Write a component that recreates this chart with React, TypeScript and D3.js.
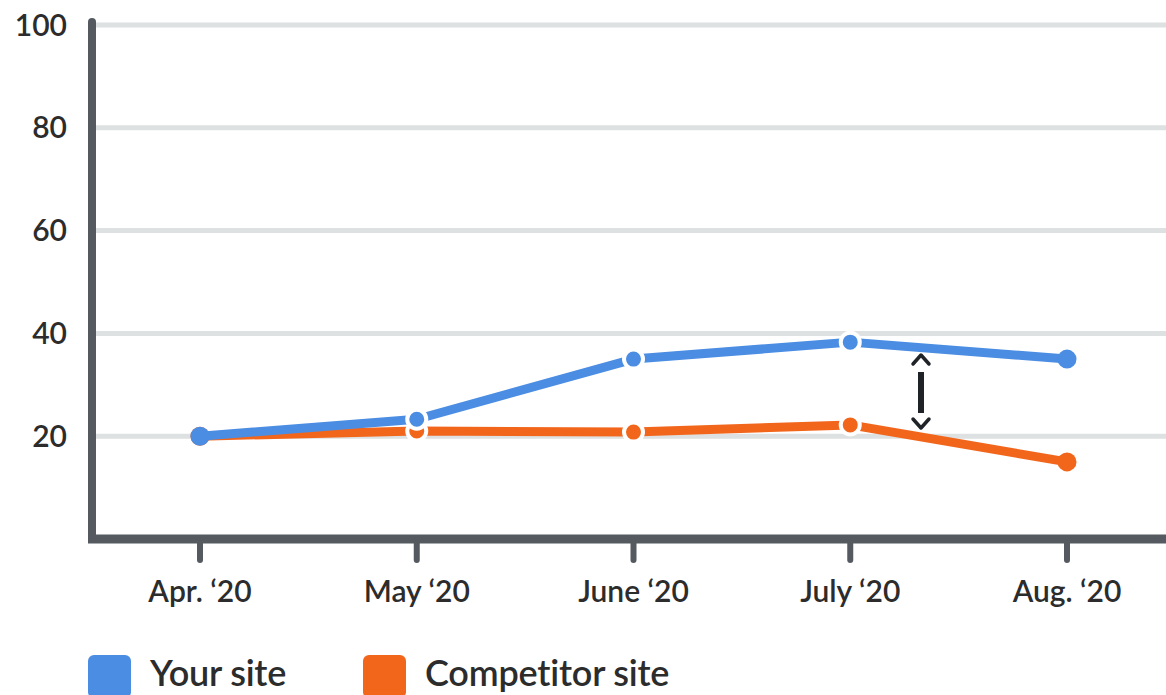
import React from "react";
import * as d3 from "d3";

const months = ["Apr. \u201820", "May \u201820", "June \u201820", "July \u201820", "Aug. \u201820"];
const yourSite = [20, 23.3, 35, 38.3, 35];
const competitorSite = [20, 21, 20.8, 22.2, 15];
const yTicks = [20, 40, 60, 80, 100];
const seriesNames = ["Your site", "Competitor site"];
const seriesColors = ["#4a8de3", "#f2661c"];

const W = 1166;
const H = 695;

export default function App() {
  const x = d3.scalePoint<string>().domain(months).range([200, 1067]);
  const y = d3.scaleLinear().domain([0, 100]).range([539, 25]);
  const line = d3
    .line<number>()
    .x((_, i) => x(months[i]) as number)
    .y((d) => y(d));
  const series = [competitorSite, yourSite];
  const colors = [seriesColors[1], seriesColors[0]];
  const font = "Lato, 'Open Sans', sans-serif";

  const ax = 921;
  const aTop = 355;
  const aBot = 428;

  return (
    <svg width={W} height={H} style={{ position: "absolute", left: 0, top: 0, background: "#fff" }}>
      {yTicks.map((t) => (
        <g key={t}>
          <line x1={96} x2={W} y1={y(t)} y2={y(t)} stroke="#dee1e1" strokeWidth={5} />
          <text
            x={67}
            y={y(t)}
            dy="0.35em"
            textAnchor="end"
            fontFamily={font}
            fontWeight={600}
            fontSize={30}
            fill="#2c2c2c"
          >
            {t}
          </text>
        </g>
      ))}
      <line x1={92} x2={92} y1={22} y2={539} stroke="#555a60" strokeWidth={8} strokeLinecap="round" />
      <line x1={88} x2={W} y1={539} y2={539} stroke="#555a60" strokeWidth={9} />
      {months.map((m) => (
        <g key={m}>
          <line
            x1={x(m)}
            x2={x(m)}
            y1={543}
            y2={560}
            stroke="#555a60"
            strokeWidth={6}
            strokeLinecap="round"
          />
          <text
            x={x(m)}
            y={602}
            textAnchor="middle"
            fontFamily={font}
            fontWeight={600}
            fontSize={30}
            fill="#2c2c2c"
          >
            {m}
          </text>
        </g>
      ))}
      {series.map((s, si) => (
        <g key={si}>
          <path d={line(s) || ""} fill="none" stroke={colors[si]} strokeWidth={9} strokeLinejoin="round" />
          {s.map((v, i) => (
            <circle
              key={i}
              cx={x(months[i])}
              cy={y(v)}
              r={9.5}
              fill={colors[si]}
              stroke="#fff"
              strokeWidth={i === 0 || i === 4 ? 0 : 4}
            />
          ))}
        </g>
      ))}
      <g stroke="#1f2227" fill="none" strokeLinecap="round" strokeLinejoin="round">
        <line x1={ax} x2={ax} y1={aTop + 17} y2={aBot - 15} strokeWidth={6} strokeLinecap="butt" />
        <polyline points={`${ax - 8},${aTop + 9} ${ax},${aTop} ${ax + 8},${aTop + 9}`} strokeWidth={3.5} />
        <polyline points={`${ax - 8},${aBot - 9} ${ax},${aBot} ${ax + 8},${aBot - 9}`} strokeWidth={3.5} />
      </g>
      {seriesNames.map((n, i) => {
        const lx = i === 0 ? 88 : 363;
        return (
          <g key={n}>
            <rect x={lx} y={655} width={43} height={43} rx={6} fill={seriesColors[i]} />
            <text x={lx + 62} y={686} fontFamily={font} fontWeight={600} fontSize={36} fill="#2c2c2c" letterSpacing={-0.2}>
              {n}
            </text>
          </g>
        );
      })}
    </svg>
  );
}
